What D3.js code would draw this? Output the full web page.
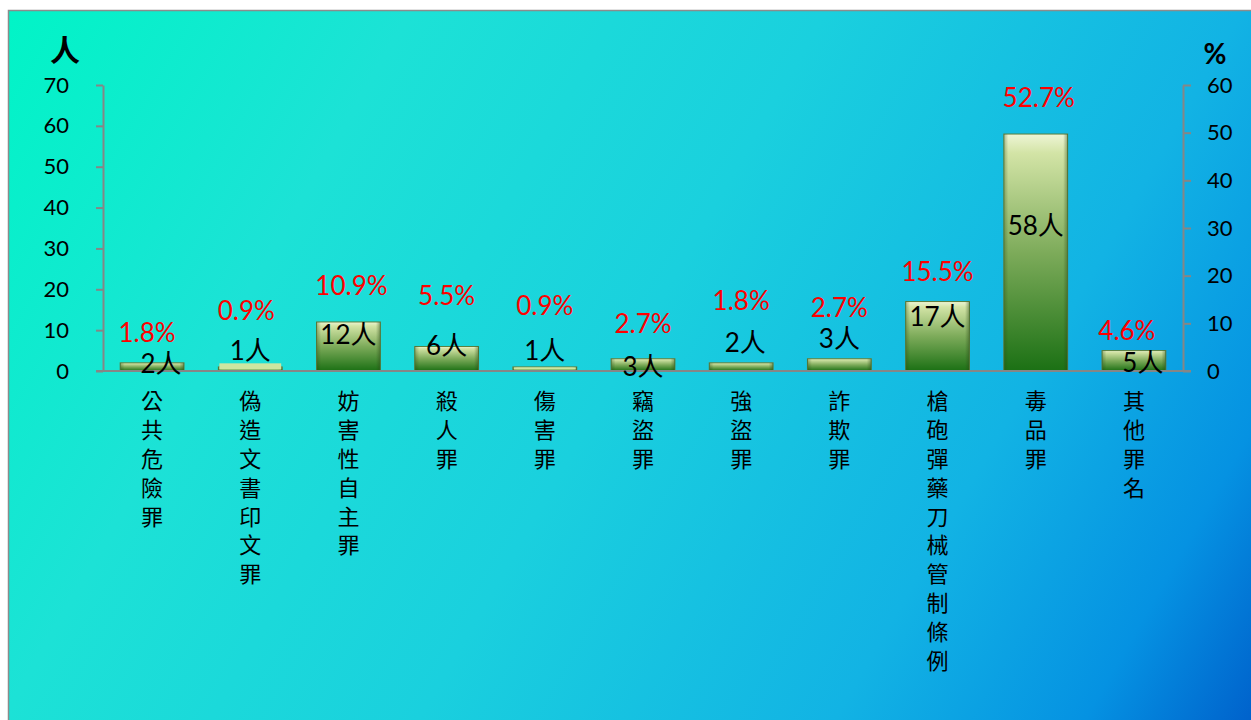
<!DOCTYPE html>
<html>
<head>
<meta charset="utf-8">
<script src="https://cdn.jsdelivr.net/npm/d3@7"></script>
<style>
  html, body { margin: 0; padding: 0; background: #ffffff; }
  svg { display: block; }
</style>
</head>
<body>
<div id="chart"></div>
<script>
// Data
const categories = ["公共危險罪", "偽造文書印文罪", "妨害性自主罪", "殺人罪", "傷害罪", "竊盜罪",
    "強盜罪", "詐欺罪", "槍砲彈藥刀械管制條例", "毒品罪", "其他罪名"];
const counts = [2, 1, 12, 6, 1, 3, 2, 3, 17, 58, 5];
const percents = [1.8, 0.9, 10.9, 5.5, 0.9, 2.7, 1.8, 2.7, 15.5, 52.7, 4.6];
const leftTicks = [0, 10, 20, 30, 40, 50, 60, 70];
const rightTicks = [0, 10, 20, 30, 40, 50, 60];

// Hand-dragged label nudges (px, relative to bar top / bar centre), as in the original
const countLabelDy = [0, -17, 12, -1, -17, 7, -21, -21, 14, 91, 11];
const countLabelDx = [9, 0, 0, 0, 0, 0, 4, 0, 0, 0, 9];
const pctLabelDy = [-31, -57, -37, -51, -62, -36, -63, -52, -31, -37, -21];
const pctLabelDx = [-5, -4, 3, 0, 0, 0, 0, 0, 0, 3, -7];

// Layout
const W = 1251, H = 720;
const plot = { left: 103, right: 1183, top: 85, bottom: 371 };

const svg = d3.select("#chart")
    .append("svg")
    .attr("width", W)
    .attr("height", H);

const defs = svg.append("defs");

// Background gradient
const bg = defs.append("linearGradient")
    .attr("id", "bg")
    .attr("gradientUnits", "userSpaceOnUse")
    .attr("x1", 0).attr("y1", 0).attr("x2", W).attr("y2", H);
[[0, "#00f5c6"], [0.25, "#1ce2d6"], [0.5, "#1ad0de"], [0.75, "#12b3e4"], [0.9, "#0592e2"], [1, "#0062cc"]]
    .forEach(([o, c]) => bg.append("stop").attr("offset", o).attr("stop-color", c));

// Bar gradient
const barGrad = defs.append("linearGradient")
    .attr("id", "barGrad")
    .attr("x1", 0).attr("y1", 0).attr("x2", 0).attr("y2", 1);
[[0, "#eef5d6"], [0.08, "#d3e4a6"], [0.5, "#7dab5a"], [1, "#1b7014"]]
    .forEach(([o, c]) => barGrad.append("stop").attr("offset", o).attr("stop-color", c));

const sideGrad = defs.append("linearGradient")
    .attr("id", "sideGrad")
    .attr("x1", 0).attr("y1", 0).attr("x2", 1).attr("y2", 0);
[[0, "rgba(40,70,20,0.35)"], [0.07, "rgba(40,70,20,0)"], [0.93, "rgba(40,70,20,0)"], [1, "rgba(40,70,20,0.45)"]]
    .forEach(([o, c]) => sideGrad.append("stop").attr("offset", o).attr("stop-color", c));

svg.append("rect")
    .attr("x", 8.5).attr("y", 10.5)
    .attr("width", W).attr("height", H)
    .attr("fill", "url(#bg)")
    .attr("stroke", "#8c8c8c")
    .attr("stroke-width", 1.5);

// Scales
const x = d3.scaleBand()
    .domain(categories)
    .range([plot.left, plot.right])
    .paddingInner(0.35)
    .paddingOuter(0.175);

const y = d3.scaleLinear().domain([0, 70]).range([plot.bottom, plot.top]);
const y2 = d3.scaleLinear().domain([0, 60]).range([plot.bottom, plot.top]);

const axisColor = "#868686";
const tickFont = "Lato, 'Noto Sans', sans-serif";

// Left axis
const gLeft = svg.append("g")
    .attr("transform", `translate(${plot.left},0)`)
    .call(d3.axisLeft(y).tickValues(leftTicks).tickSize(7).tickPadding(27).tickSizeOuter(0));
gLeft.select(".domain").attr("stroke", axisColor).attr("stroke-width", 2);
gLeft.selectAll(".tick line").attr("stroke", axisColor).attr("stroke-width", 2);
gLeft.selectAll(".tick text")
    .style("font-family", tickFont).style("font-size", "22px").attr("fill", "#000");

// Right axis
const gRight = svg.append("g")
    .attr("transform", `translate(${plot.right},0)`)
    .call(d3.axisRight(y2).tickValues(rightTicks).tickSize(8).tickPadding(16).tickSizeOuter(0));
gRight.select(".domain").attr("stroke", axisColor).attr("stroke-width", 2);
gRight.selectAll(".tick line").attr("stroke", axisColor).attr("stroke-width", 2);
gRight.selectAll(".tick text")
    .style("font-family", tickFont).style("font-size", "22px").attr("fill", "#000");

// Axis titles
svg.append("text")
    .attr("x", 65).attr("y", 48)
    .attr("text-anchor", "middle").attr("dominant-baseline", "central")
    .style("font-family", "'Noto Sans CJK TC', sans-serif")
    .style("font-size", "30px").style("font-weight", "bold")
    .text("人");
svg.append("text")
    .attr("x", 1215).attr("y", 53)
    .attr("text-anchor", "middle").attr("dominant-baseline", "central")
    .style("font-family", tickFont)
    .style("font-size", "28px").style("font-weight", "bold")
    .text("%");

// Bars
const bars = svg.selectAll(".bar")
    .data(categories)
    .enter()
    .append("g")
    .attr("class", "bar");

bars.append("rect")
    .attr("x", d => x(d))
    .attr("y", (d, i) => y(counts[i]))
    .attr("width", x.bandwidth())
    .attr("height", (d, i) => y(0) - y(counts[i]))
    .attr("fill", "url(#barGrad)")
    .attr("stroke", "#5c7f3c")
    .attr("stroke-width", 1);

bars.append("rect")
    .attr("x", d => x(d))
    .attr("y", (d, i) => y(counts[i]))
    .attr("width", x.bandwidth())
    .attr("height", (d, i) => y(0) - y(counts[i]))
    .attr("fill", "url(#sideGrad)");

// thin bars keep their light bevel colour
bars.filter((d, i) => y(0) - y(counts[i]) < 8)
    .append("rect")
    .attr("x", d => x(d) + 1)
    .attr("y", (d, i) => y(counts[i]) + 0.5)
    .attr("width", x.bandwidth() - 2)
    .attr("height", (d, i) => Math.max(1, y(0) - y(counts[i]) - 2))
    .attr("fill", "#cde6a0");

// X baseline
svg.append("line")
    .attr("x1", plot.left - 7).attr("x2", plot.right + 8)
    .attr("y1", plot.bottom).attr("y2", plot.bottom)
    .attr("stroke", axisColor).attr("stroke-width", 2);

// Count labels
svg.selectAll(".count-label")
    .data(categories)
    .enter()
    .append("text")
    .attr("class", "count-label")
    .attr("x", (d, i) => x(d) + x.bandwidth() / 2 + countLabelDx[i])
    .attr("y", (d, i) => y(counts[i]) + countLabelDy[i])
    .attr("text-anchor", "middle")
    .attr("dominant-baseline", "central")
    .style("font-family", "Lato, 'Noto Sans CJK TC', sans-serif")
    .style("font-size", "26px")
    .attr("fill", "#000")
    .text((d, i) => counts[i] + "人");

// Percent labels
svg.selectAll(".pct-label")
    .data(categories)
    .enter()
    .append("text")
    .attr("class", "pct-label")
    .attr("x", (d, i) => x(d) + x.bandwidth() / 2 + pctLabelDx[i])
    .attr("y", (d, i) => y(counts[i]) + pctLabelDy[i])
    .attr("text-anchor", "middle")
    .attr("dominant-baseline", "central")
    .style("font-family", "Lato, sans-serif")
    .style("font-size", "26px")
    .attr("fill", "#ff0000")
    .text((d, i) => percents[i].toFixed(1) + "%");

// Vertical category labels (one text each, written top to bottom)
svg.selectAll(".cat-label")
    .data(categories)
    .enter()
    .append("text")
    .attr("class", "cat-label")
    .attr("x", d => x(d) + x.bandwidth() / 2)
    .attr("y", 390)
    .attr("text-anchor", "start")
    .style("writing-mode", "vertical-rl")
    .style("letter-spacing", "6.8px")
    .style("font-family", "'Noto Sans CJK TC', sans-serif")
    .style("font-size", "22px")
    .attr("fill", "#000")
    .text(d => d);
</script>
</body>
</html>
